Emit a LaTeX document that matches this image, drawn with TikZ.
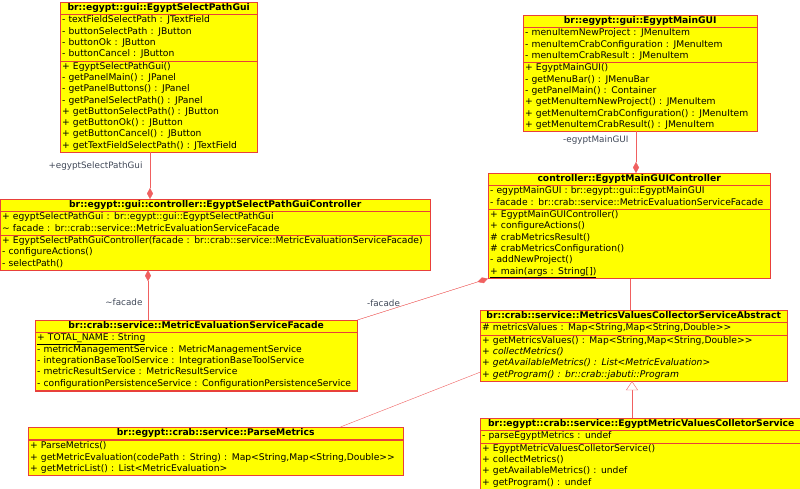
\documentclass[tikz,border=0pt]{standalone}
\usepackage{fontspec}
\setmainfont{DejaVu Sans}
\usetikzlibrary{shapes,arrows.meta,positioning,calc}
\definecolor{umlred}{HTML}{E8403A}
\definecolor{umlline}{HTML}{F06060}
\definecolor{umlyellow}{HTML}{FFFF00}
\definecolor{umllabel}{HTML}{404858}
\tikzset{
  umlclass/.style={rectangle split, rectangle split parts=3, draw=umlred,
    fill=umlyellow, align=left, inner xsep=2pt, inner ysep=0.3pt, anchor=north west,
    font=\fontsize{9.2}{11.3}\selectfont},
  assoc/.style={draw=umlline},
  compose/.style={draw=umlline, fill=umlred, {Diamond[length=11pt,width=6pt]}-},
  inherit/.style={draw=umlline, -{Triangle[open,fill=white,length=9pt,width=12pt]}},
  rolelabel/.style={text=umllabel, font=\fontsize{8.8}{10}\selectfont}
}
\newcommand{\clname}[1]{{\centering\strut\textbf{#1}\strut\par}}
\begin{document}
\begin{tikzpicture}[x=1pt, y=-1pt]
  \useasboundingbox[fill=white] (0,0) rectangle (800,488);
  % GUI classes
  \node[umlclass, text width=193pt] (selgui) at (60,2) {\clname{br::egypt::gui::EgyptSelectPathGui}
    \nodepart{two}\strut - textFieldSelectPath : JTextField\\ - buttonSelectPath : JButton\\ - buttonOk : JButton\\ - buttonCancel : JButton\strut
    \nodepart{three}\strut + EgyptSelectPathGui()\\ - getPanelMain() : JPanel\\ - getPanelButtons() : JPanel\\ - getPanelSelectPath() : JPanel\\ + getButtonSelectPath() : JButton\\ + getButtonOk() : JButton\\ + getButtonCancel() : JButton\\ + getTextFieldSelectPath() : JTextField\strut};
  \node[umlclass, text width=230pt] (maingui) at (523,15) {\clname{br::egypt::gui::EgyptMainGUI}
    \nodepart{two}\strut - menuItemNewProject : JMenuItem\\ - menuItemCrabConfiguration : JMenuItem\\ - menuItemCrabResult : JMenuItem\strut
    \nodepart{three}\strut + EgyptMainGUI()\\ - getMenuBar() : JMenuBar\\ - getPanelMain() : Container\\ + getMenuItemNewProject() : JMenuItem\\ + getMenuItemCrabConfiguration() : JMenuItem\\ + getMenuItemCrabResult() : JMenuItem\strut};
  % controllers
  \node[umlclass, text width=426pt] (selctrl) at (0,199) {\clname{br::egypt::gui::controller::EgyptSelectPathGuiController}
    \nodepart{two}\strut + egyptSelectPathGui : br::egypt::gui::EgyptSelectPathGui\\ \textasciitilde{} facade : br::crab::service::MetricEvaluationServiceFacade\strut
    \nodepart{three}\strut + EgyptSelectPathGuiController(facade : br::crab::service::MetricEvaluationServiceFacade)\\ - configureActions()\\ - selectPath()\strut};
  \node[umlclass, text width=278pt] (mainctrl) at (488,173) {\clname{controller::EgyptMainGUIController}
    \nodepart{two}\strut - egyptMainGUI : br::egypt::gui::EgyptMainGUI\\ - facade : br::crab::service::MetricEvaluationServiceFacade\strut
    \nodepart{three}\strut + EgyptMainGUIController()\\ + configureActions()\\ \# crabMetricsResult()\\ \# crabMetricsConfiguration()\\ - addNewProject()\\ \underline{+ main(args : String[])}\strut};
  % services
  \node[umlclass, text width=318pt] (facade) at (35,320) {\clname{br::crab::service::MetricEvaluationServiceFacade}
    \nodepart{two}\strut \underline{+ TOTAL\_NAME : String}\\ - metricManagementService : MetricManagementService\\ - integrationBaseToolService : IntegrationBaseToolService\\ - metricResultService : MetricResultService\\ - configurationPersistenceService : ConfigurationPersistenceService\strut
    \nodepart{three} \mbox{}};
  \node[umlclass, text width=303pt] (collector) at (480,310) {\clname{br::crab::service::MetricsValuesCollectorServiceAbstract}
    \nodepart{two}\strut \# metricsValues : Map<String,Map<String,Double>{}>\strut
    \nodepart{three}\strut + getMetricsValues() : Map<String,Map<String,Double>{}>\\ + \textit{collectMetrics()}\\ + \textit{getAvailableMetrics() : List<MetricEvaluation>}\\ + \textit{getProgram() : br::crab::jabuti::Program}\strut};
  \node[umlclass, text width=371pt] (parse) at (28,427) {\clname{br::egypt::crab::service::ParseMetrics}
    \nodepart{two} \mbox{}
    \nodepart{three}\strut + ParseMetrics()\\ + getMetricEvaluation(codePath : String) : Map<String,Map<String,Double>{}>\\ + getMetricList() : List<MetricEvaluation>\strut};
  \node[umlclass, text width=318pt] (egyptcoll) at (480,418) {\clname{br::egypt::crab::service::EgyptMetricValuesColletorService}
    \nodepart{two}\strut - parseEgyptMetrics : undef\strut
    \nodepart{three}\strut + EgyptMetricValuesColletorService()\\ + collectMetrics()\\ + getAvailableMetrics() : undef\\ + getProgram() : undef\strut};

  % connectors
  \draw[compose] (selctrl.north -| 150,0) -- (selgui.south -| 150,0)
    node[rolelabel, pos=0.7, left=4pt] {+egyptSelectPathGui};
  \draw[compose] (mainctrl.north -| 636,0) -- (maingui.south -| 636,0)
    node[rolelabel, pos=0.8, left=4pt] {-egyptMainGUI};
  \draw[compose] (selctrl.south -| 148,0) -- (facade.north -| 148,0)
    node[rolelabel, pos=0.65, left=2pt] {\textasciitilde facade};
  \draw[compose] (mainctrl.south west) -- (facade.north east)
    node[rolelabel, pos=0.8, above=2pt] {-facade};
  \draw[assoc] ($(selctrl.north east)+(0,19)$) -- ($(selctrl.north east)+(0,19)$ -| mainctrl.west);
  \draw[assoc] (mainctrl.south -| 630,0) -- (collector.north -| 630,0);
  \draw[assoc] ($(parse.north east)+(-63,0)$) -- ($(collector.south west)+(0,-9)$);
  \draw[inherit] (egyptcoll.north -| 632,0) -- (collector.south -| 632,0);
\end{tikzpicture}
\end{document}
